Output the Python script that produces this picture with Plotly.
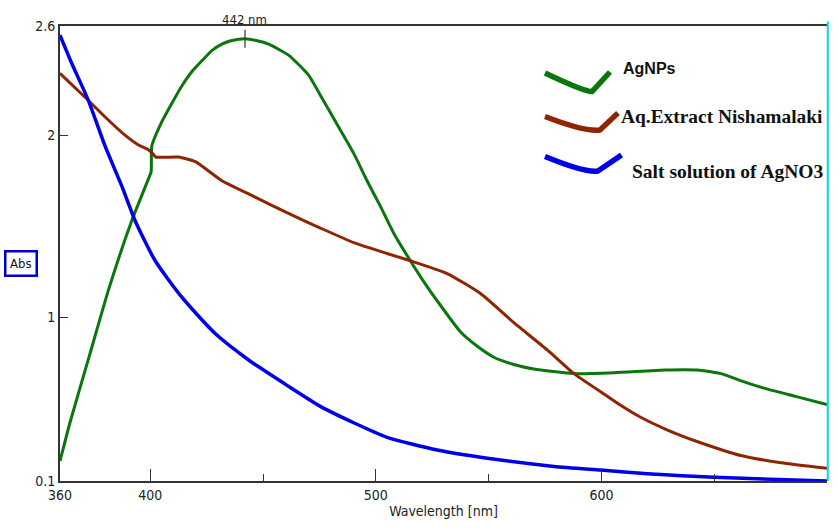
import plotly.graph_objects as go

# AgNPs (green)
agnp_nm = [360, 364.4, 373.3, 381.5, 391.8, 399.2, 400.4, 400.7, 405, 409.6, 414, 418.5, 423, 427.3,
           431.8, 436.2, 442, 447, 452.5, 461.3, 470.2, 475.4, 482.8, 490.2, 496.1, 502, 508, 515.3,
           521, 527.2, 537.5, 545, 552.3, 561.2, 570, 587.8, 605.6, 627.8, 642.6, 653, 662, 672, 686, 700]
agnp_abs = [0.21, 0.42, 0.80, 1.15, 1.53, 1.76, 1.80, 1.94, 2.07, 2.175, 2.27, 2.35, 2.41, 2.465,
            2.50, 2.52, 2.53, 2.52, 2.50, 2.44, 2.33, 2.22, 2.06, 1.90, 1.75, 1.61, 1.46, 1.31,
            1.20, 1.09, 0.92, 0.84, 0.78, 0.74, 0.715, 0.69, 0.695, 0.71, 0.71, 0.69, 0.65, 0.61, 0.565, 0.52]

# Aq. extract Nishamalaki (brown)
ext_nm = [360, 371, 380, 388.8, 394.8, 399.2, 401, 402.5, 412.5, 420, 431.8, 446.5, 461.3, 475.4, 490.2,
          505, 515.3, 531.6, 546.4, 561.2, 576, 587.8, 599.7, 608, 617.4, 629.3, 644, 661.8, 679.6, 700]
ext_abs = [2.34, 2.21, 2.10, 2.00, 1.946, 1.92, 1.90, 1.88, 1.88, 1.855, 1.75, 1.66, 1.57, 1.49, 1.41,
           1.35, 1.31, 1.24, 1.13, 0.97, 0.82, 0.69, 0.59, 0.52, 0.45, 0.38, 0.31, 0.24, 0.20, 0.17]

# Salt solution of AgNO3 (blue)
salt_nm = [360, 365.2, 372.6, 380, 387.4, 393.3, 402.2, 414, 428.8, 443.6, 461.3, 475.4, 490.2,
           505, 527.2, 549.4, 579, 599.7, 620.4, 650, 700]
salt_abs = [2.55, 2.395, 2.19, 1.94, 1.72, 1.53, 1.31, 1.11, 0.91, 0.765, 0.62, 0.51, 0.42,
            0.34, 0.27, 0.225, 0.18, 0.16, 0.14, 0.12, 0.10]

peak_nm = [442]
peak_abs = [2.53]

x_ticks = [360, 400, 500, 600, 700]
x_minor = [450, 550, 650]
y_ticks = [0.1, 1, 2, 2.6]
y_labels = ["0.1", "1", "2", "2.6"]

GREEN = "#0b760b"
BROWN = "#8f2500"
BLUE = "#0000e6"
AX = "#333333"
NARROW = "DejaVu Sans Condensed, Liberation Sans Narrow, Liberation Sans, Arial"
TICKFONT = dict(family=NARROW, size=14, color="#222")

fig = go.Figure()
fig.add_trace(go.Scatter(x=agnp_nm, y=agnp_abs, mode="lines",
                         line=dict(color=GREEN, width=3, shape="spline", smoothing=0.5), name="AgNPs"))
fig.add_trace(go.Scatter(x=ext_nm, y=ext_abs, mode="lines",
                         line=dict(color=BROWN, width=3, shape="spline", smoothing=0.5),
                         name="Aq.Extract Nishamalaki"))
fig.add_trace(go.Scatter(x=salt_nm, y=salt_abs, mode="lines", line=dict(color=BLUE, width=3.5,
                         shape="spline", smoothing=0.6), name="Salt solution of AgNO3"))
fig.add_trace(go.Scatter(x=peak_nm, y=peak_abs, mode="markers",
                         marker=dict(symbol="line-ns", size=13, line=dict(color="#333", width=1.2)),
                         showlegend=False))

fig.update_layout(
    width=839, height=532,
    margin=dict(l=60, r=12, t=26, b=51),
    paper_bgcolor="white", plot_bgcolor="white",
    showlegend=False,
    xaxis=dict(range=[360, 700], tickvals=x_ticks, ticks="inside", ticklen=12, tickwidth=1.2,
               tickcolor=AX, showgrid=False, zeroline=False, showline=True, linecolor=AX,
               linewidth=2, mirror=True, tickfont=TICKFONT, automargin=False,
               minor=dict(tickvals=x_minor, ticks="inside", ticklen=7, tickcolor=AX, tickwidth=1.2),
               title=dict(text="Wavelength [nm]", font=TICKFONT, standoff=4)),
    yaxis=dict(range=[0.1, 2.6], tickvals=y_ticks, ticktext=y_labels, ticks="inside", ticklen=8,
               tickwidth=1.2, tickcolor=AX, showgrid=False, zeroline=False, showline=True,
               linecolor=AX, linewidth=2, tickfont=TICKFONT, automargin=False),
)

# right cyan border
fig.add_shape(type="line", xref="paper", yref="paper", x0=1.001, x1=1.001, y0=0, y1=1.01,
              line=dict(color="#00d8f0", width=2))

# Abs label box
fig.add_annotation(xref="paper", yref="paper", x=-0.051, y=0.478, xanchor="center", yanchor="middle",
                   text="Abs", showarrow=False,
                   font=dict(family=NARROW, size=13, color="#111"),
                   bordercolor="#0000cc", borderwidth=2.5, borderpad=3.5, bgcolor="white")

# peak label
fig.add_annotation(x=442, y=1, yref="paper", yanchor="bottom", yshift=-3, text="442 nm", showarrow=False,
                   font=dict(family=NARROW, size=13, color="#222"))

# custom legend strokes (paper coords)
def px2paper(px, py):
    return (px - 60) / (827 - 60), (481 - py) / (481 - 26)

strokes = [
    ((545, 73), (585, 92), (592, 91.5), (610, 72)),
    ((545, 116.5), (585, 132), (600, 130), (618, 113)),
    ((545, 156.5), (585, 173), (598, 171), (621.5, 155)),
]
stroke_colors = [GREEN, BROWN, BLUE]
for (p0, c1, p1, p2), col in zip(strokes, stroke_colors):
    a, b, c, d = [px2paper(*p) for p in (p0, c1, p1, p2)]
    path = "M %f %f Q %f %f %f %f L %f %f" % (a + b + c + d)
    fig.add_shape(type="path", xref="paper", yref="paper", path=path,
                  line=dict(color=col, width=5.5))

legend_texts = [
    ("AgNPs", 621, 68, "Liberation Sans, Arial", 16),
    ("Aq.Extract Nishamalaki", 619, 117, "Liberation Serif, Times New Roman", 19.4),
    ("Salt solution of AgNO3", 630, 171, "Liberation Serif, Times New Roman", 19.5),
]
for txt, px, py, fam, sz in legend_texts:
    xp, yp = px2paper(px, py)
    fig.add_annotation(xref="paper", yref="paper", x=xp, y=yp, xanchor="left", yanchor="middle",
                       text="<b>%s</b>" % txt, showarrow=False,
                       font=dict(family=fam, size=sz, color="#111"))

fig.write_html("out.html", config={"displayModeBar": False},
               post_script="document.body.style.margin='0';document.body.style.overflow='hidden';")
